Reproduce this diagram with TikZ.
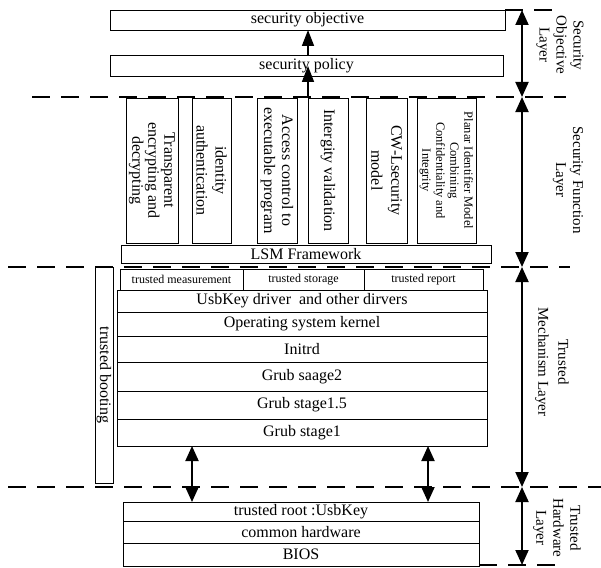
\documentclass[tikz,border=0pt]{standalone}
\usepackage{fontspec}
\setmainfont{Liberation Serif}
\usetikzlibrary{arrows.meta, positioning}

\begin{document}
\begin{tikzpicture}[
    x=1pt, y=-1pt,
    every node/.style={inner sep=0pt, outer sep=0pt, font=\fontsize{16}{17}\selectfont},
    cell/.style={draw, line width=0.8pt, fill=white, anchor=north west},
    fbox/.style={draw, line width=0.8pt, fill=white, rotate=-90, align=center,
                 minimum width=145pt},
    lbl/.style={rotate=-90, align=center, font=\fontsize{15}{17}\selectfont},
    layerline/.style={line width=2.5pt, dash pattern=on 18pt off 11pt},
    spanarr/.style={line width=2pt, {Triangle[length=15pt,width=13pt]}-{Triangle[length=15pt,width=13pt]}},
    uparr/.style={line width=1.6pt, -{Triangle[length=16pt,width=12pt]}}
  ]
  \useasboundingbox (0,0) rectangle (601,567);

  % layer borders
  \coordinate (l0) at (522,10);
  \coordinate (l1) at (522,97);
  \coordinate (l2) at (522,267);
  \coordinate (l3) at (522,487);
  \coordinate (l4) at (522,565);
  \draw[layerline] (505,10) -- (556,10);
  \draw[layerline] (32,97) -- (566,97);
  \draw[layerline] (8,267) -- (570,267);
  \draw[layerline] (8,487) -- (601,487);
  \draw[layerline] (479,565) -- (556,565);

  % security objective layer
  \node[cell, minimum width=395pt, minimum height=20pt] (objective) at (110,10) {security objective};
  \node[cell, minimum width=393pt, minimum height=21pt] (policy) at (110,55) {security policy};

  % security function layer
  \node[fbox, minimum height=52pt, font=\fontsize{16}{16}\selectfont] (fn1) at (152,170.5) {Transparent\\encrypting and\\decrypting};
  \node[fbox, minimum height=39pt, font=\fontsize{16}{19}\selectfont] (fn2) at (211.5,170.5) {identity\\authentication};
  \node[fbox, minimum height=40pt, font=\fontsize{16}{18}\selectfont] (fn3) at (277,170.5) {Access control to\\executable program};
  \node[fbox, minimum height=40pt] (fn4) at (328,170.5) {Intergity validation};
  \node[fbox, minimum height=41pt, font=\fontsize{16}{20}\selectfont] (fn5) at (386.5,170.5) {CW-Lsecurity\\model};
  \node[fbox, minimum height=59pt, font=\fontsize{12.5}{14}\selectfont] (fn6) at (446.5,170.5) {Planar Identifier Model\\Combining\\Confidentiality and\\Integrity};
  \node[cell, minimum width=370pt, minimum height=18pt] (lsm) at (121,245) {LSM Framework};

  \coordinate (psrc) at (308,97);
  \coordinate (ptip) at (308,66);
  \draw[uparr] (psrc) -- (ptip);
  \draw[uparr] (policy.north -| 308,0) -- (objective.south -| 308,0);

  % trusted mechanism layer
  \node[fbox, minimum width=216pt, minimum height=18pt] (boot) at (104,375) {trusted booting};
  \node[cell, minimum width=123pt, minimum height=21pt, font=\fontsize{12}{14}\selectfont] (measure) at (120,269) {trusted measurement};
  \node[cell, minimum width=121pt, minimum height=21pt, font=\fontsize{12}{14}\selectfont, right=0pt of measure] (storage) {trusted storage};
  \node[cell, minimum width=119pt, minimum height=21pt, font=\fontsize{12}{14}\selectfont, right=0pt of storage] (report) {trusted report};
  \node[cell, minimum width=370pt, minimum height=22pt] (drv) at (117,290) {UsbKey driver~ and other dirvers};
  \node[cell, minimum width=370pt, minimum height=24pt, below=0pt of drv] (kernel) {Operating system kernel};
  \node[cell, minimum width=370pt, minimum height=26pt, below=0pt of kernel] (initrd) {Initrd};
  \node[cell, minimum width=370pt, minimum height=29pt, below=0pt of initrd] (grubb) {Grub saage2};
  \node[cell, minimum width=370pt, minimum height=28pt, below=0pt of grubb] (grubc) {Grub stage1.5};
  \node[cell, minimum width=370pt, minimum height=27pt, below=0pt of grubc] (grubd) {Grub stage1};

  % trusted hardware layer
  \node[cell, minimum width=356pt, minimum height=19pt] (root) at (123,502) {trusted root :UsbKey};
  \node[cell, minimum width=356pt, minimum height=22pt, below=0pt of root] (hw) {common hardware};
  \node[cell, minimum width=356pt, minimum height=23pt, below=0pt of hw] (bios) {BIOS};

  \draw[spanarr] (192,0 |- grubd.south) -- (192,0 |- root.north);
  \draw[spanarr] (428,0 |- grubd.south) -- (428,0 |- root.north);

  % layer spans and names
  \draw[spanarr] (l0) -- (l1);
  \draw[spanarr] (l1) -- (l2);
  \draw[spanarr] (l2) -- (l3);
  \draw[spanarr] (l3) -- (l4);
  \node[lbl] (objlbl) at (560,45) {Security\\Objective\\Layer};
  \node[lbl] (funclbl) at (568,180) {Security Function\\Layer};
  \node[lbl, font=\fontsize{15}{20}\selectfont] (mechlbl) at (552,362) {Trusted\\Mechanism Layer};
  \node[lbl] (hwlbl) at (557,528) {Trusted\\Hardware\\Layer};
\end{tikzpicture}
\end{document}
